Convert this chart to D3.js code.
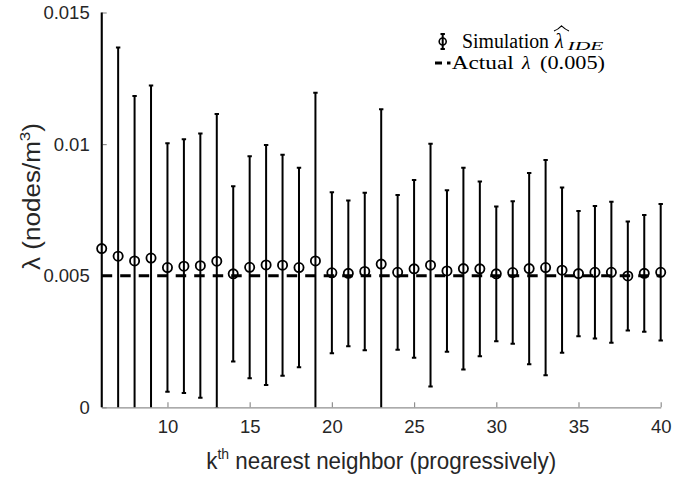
<!DOCTYPE html>
<html>
<head>
<meta charset="utf-8">
<script src="https://cdn.jsdelivr.net/npm/d3@7"></script>
<style>
  html, body { margin: 0; padding: 0; background: #fff; }
  svg { display: block; }
</style>
</head>
<body>
<svg id="chart" width="694" height="478"></svg>
<script>
// ---- data ----
const kValues = [6,7,8,9,10,11,12,13,14,15,16,17,18,19,20,21,22,23,24,25,26,27,28,29,30,31,32,33,34,35,36,37,38,39,40];
const meanValues = [0.00603,0.00574,0.00556,0.00567,0.00531,0.00536,0.00538,0.00555,0.00507,0.00532,0.00541,0.00540,0.00531,0.00556,0.00511,0.00509,0.00516,0.00544,0.00513,0.00526,0.00540,0.00518,0.00527,0.00526,0.00507,0.00512,0.00527,0.00531,0.00521,0.00508,0.00513,0.00513,0.00499,0.00509,0.00513];
const errValues = [0.01050,0.00793,0.00627,0.00656,0.00472,0.00482,0.00502,0.00559,0.00333,0.00422,0.00456,0.00420,0.00379,0.00639,0.00306,0.00277,0.00299,0.00588,0.00294,0.00338,0.00461,0.00307,0.00383,0.00332,0.00256,0.00271,0.00363,0.00409,0.00314,0.00238,0.00252,0.00268,0.00207,0.00222,0.00259];
const actualLambda = 0.005;
const xTicks = [10,15,20,25,30,35,40];
const yTicks = [0,0.005,0.01,0.015];
const yTickLabels = ["0","0.005","0.01","0.015"];

// ---- layout ----
const svg = d3.select("#chart");
const pLeft = 101.7, pRight = 660.7, pTop = 12.5, pBottom = 407.3;
const x = d3.scaleLinear().domain([6,40]).range([pLeft,pRight]);
const y = d3.scaleLinear().domain([0,0.015]).range([pBottom,pTop]);

const axisColor = "#8f8f8f";
const textColor = "#262626";
const sans = "'Liberation Sans', Arial, sans-serif";
const serif = "'Liberation Serif', 'Times New Roman', serif";

svg.append("defs").append("clipPath").attr("id","plotclip")
  .append("rect").attr("x",pLeft-10).attr("y",pTop).attr("width",pRight-pLeft+20).attr("height",pBottom-pTop);

// axes
const xAxis = d3.axisBottom(x).tickValues(xTicks).tickSize(-5).tickPadding(13).tickSizeOuter(0);
const gx = svg.append("g").attr("transform",`translate(0,${pBottom})`).call(xAxis);
gx.select(".domain").attr("stroke",axisColor).attr("stroke-width",1.2);
gx.selectAll(".tick line").attr("stroke",axisColor).attr("stroke-width",1.2);
gx.selectAll(".tick text").attr("fill",textColor).attr("font-family",sans).attr("font-size",18.5).attr("dy","0.71em");

const yAxis = d3.axisLeft(y).tickValues(yTicks).tickFormat((d,i)=>yTickLabels[i]).tickSize(-5).tickPadding(12).tickSizeOuter(0);
const gy = svg.append("g").attr("transform",`translate(${pLeft},0)`).call(yAxis);
gy.select(".domain").attr("stroke",axisColor).attr("stroke-width",1.2);
gy.selectAll(".tick line").attr("stroke",axisColor).attr("stroke-width",1.2);
gy.selectAll(".tick text").attr("fill",textColor).attr("font-family",sans).attr("font-size",18.5);

// plot content
const plot = svg.append("g").attr("clip-path","url(#plotclip)");

// dashed actual line
plot.append("line")
  .attr("x1",x(6)).attr("x2",x(40))
  .attr("y1",y(actualLambda)).attr("y2",y(actualLambda))
  .attr("stroke","#000").attr("stroke-width",3)
  .attr("stroke-dasharray","10.5,8");

const data = kValues.map((k,i)=>({k, m: meanValues[i], e: errValues[i]}));
const capW = 2.2;
const eb = plot.selectAll("g.eb").data(data).join("g").attr("class","eb");
eb.append("line")
  .attr("x1",d=>x(d.k)).attr("x2",d=>x(d.k))
  .attr("y1",d=>y(d.m - d.e)).attr("y2",d=>y(d.m + d.e))
  .attr("stroke","#000").attr("stroke-width",2);
eb.append("line")
  .attr("x1",d=>x(d.k)-capW).attr("x2",d=>x(d.k)+capW)
  .attr("y1",d=>y(d.m + d.e)).attr("y2",d=>y(d.m + d.e))
  .attr("stroke","#000").attr("stroke-width",2);
eb.append("line")
  .attr("x1",d=>x(d.k)-capW).attr("x2",d=>x(d.k)+capW)
  .attr("y1",d=>y(d.m - d.e)).attr("y2",d=>y(d.m - d.e))
  .attr("stroke","#000").attr("stroke-width",2);
eb.append("circle")
  .attr("cx",d=>x(d.k)).attr("cy",d=>y(d.m)).attr("r",4.6)
  .attr("fill","none").attr("stroke","#000").attr("stroke-width",1.8);

// axis labels
svg.append("text")
  .attr("x",(pLeft+pRight)/2).attr("y",469.3)
  .attr("text-anchor","middle")
  .attr("font-family",sans).attr("font-size",24).attr("fill",textColor)
  .attr("textLength",350).attr("lengthAdjust","spacingAndGlyphs")
  .call(t=>{
    t.append("tspan").text("k");
    t.append("tspan").attr("font-size",15).attr("dy",-10).text("th");
    t.append("tspan").attr("dy",10).text(" nearest neighbor (progressively)");
  });

svg.append("text")
  .attr("transform","translate(39.5,196.5) rotate(-90)")
  .attr("text-anchor","middle")
  .attr("font-family",sans).attr("font-size",23).attr("fill",textColor)
  .attr("textLength",147).attr("lengthAdjust","spacingAndGlyphs")
  .call(t=>{
    t.append("tspan").text("λ (nodes/m");
    t.append("tspan").attr("font-size",15).attr("dy",-10).text("3");
    t.append("tspan").attr("dy",10).text(")");
  });

// legend
const lg = svg.append("g");
// errorbar icon
const ix = 442.7, iy = 41.5;
lg.append("line").attr("x1",ix).attr("x2",ix).attr("y1",iy-7.5).attr("y2",iy+7.5).attr("stroke","#000").attr("stroke-width",2);
lg.append("line").attr("x1",ix-2.2).attr("x2",ix+2.2).attr("y1",iy-7.5).attr("y2",iy-7.5).attr("stroke","#000").attr("stroke-width",2);
lg.append("line").attr("x1",ix-2.2).attr("x2",ix+2.2).attr("y1",iy+7.5).attr("y2",iy+7.5).attr("stroke","#000").attr("stroke-width",2);
lg.append("circle").attr("cx",ix).attr("cy",iy).attr("r",3.5).attr("fill","none").attr("stroke","#000").attr("stroke-width",1.6);

lg.append("text").attr("x",462).attr("y",47.5).attr("font-family",serif).attr("font-size",20)
  .attr("textLength",87).attr("lengthAdjust","spacingAndGlyphs").text("Simulation");
lg.append("text").attr("x",555).attr("y",47.5).attr("font-family",serif).attr("font-size",20)
  .attr("font-style","italic").text("λ");
lg.append("text").attr("x",567.5).attr("y",50).attr("font-family",serif).attr("font-size",13)
  .attr("font-style","italic").attr("textLength",36).attr("lengthAdjust","spacingAndGlyphs").text("IDE");
// wide hat over lambda
lg.append("path").attr("d","M554,31 Q558,29.5 561.5,25.8 Q565.5,29.5 569,31").attr("fill","none").attr("stroke","#000").attr("stroke-width",1.1);

// dashed icon
lg.append("line").attr("x1",435).attr("x2",450.5).attr("y1",63).attr("y2",63)
  .attr("stroke","#000").attr("stroke-width",3).attr("stroke-dasharray","7,5,3.5,10");
lg.append("text").attr("x",451.7).attr("y",68.5).attr("font-family",serif).attr("font-size",19.5)
  .attr("textLength",62).attr("lengthAdjust","spacingAndGlyphs").text("Actual");
lg.append("text").attr("x",522).attr("y",68.5).attr("font-family",serif).attr("font-size",19.5)
  .attr("font-style","italic").text("λ");
lg.append("text").attr("x",540).attr("y",68.5).attr("font-family",serif).attr("font-size",19.5)
  .attr("textLength",65).attr("lengthAdjust","spacingAndGlyphs").text("(0.005)");
</script>
</body>
</html>
